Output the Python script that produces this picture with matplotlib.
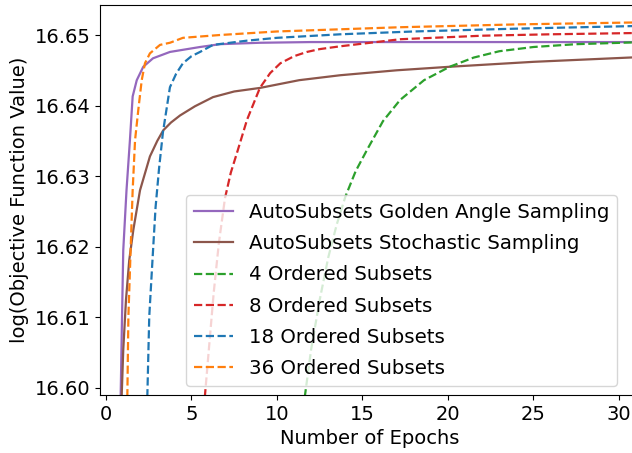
import numpy as np
import matplotlib
matplotlib.use('Agg')
import matplotlib.pyplot as plt

# epochs / objective values
golden_x = [0.84, 0.86, 0.93, 1.01, 1.2, 1.4, 1.56, 1.8, 2.18, 2.75, 3.74, 5.5, 6.67, 9.0, 12.0, 16.0, 20.0, 25.0, 31.5]
golden_y = [16.597, 16.599, 16.609, 16.6195, 16.628, 16.6351, 16.6413, 16.6436, 16.6455, 16.6467, 16.6476, 16.6483, 16.6487, 16.6489, 16.649, 16.649, 16.649, 16.649, 16.649]

stoch_x = [0.9, 0.92, 1.01, 1.17, 1.36, 1.6, 1.99, 2.57, 3.0, 3.35, 3.8, 4.33, 5.2, 6.26, 7.5, 9.0, 11.3, 13.7, 17.0, 20.1, 25.0, 31.5]
stoch_y = [16.597, 16.599, 16.6054, 16.6125, 16.6181, 16.6224, 16.628, 16.6328, 16.635, 16.6365, 16.6376, 16.6386, 16.6399, 16.6412, 16.642, 16.6425, 16.6436, 16.6443, 16.645, 16.6455, 16.6462, 16.6469]

os4_x = [11.6, 11.64, 12.0, 12.5, 13.0, 13.5, 14.0, 14.6, 15.26, 16.2, 17.2, 18.6, 20.1, 21.5, 23.0, 25.0, 27.5, 31.5]
os4_y = [16.597, 16.599, 16.6055, 16.6125, 16.6185, 16.6232, 16.6271, 16.6307, 16.6337, 16.6378, 16.6408, 16.6436, 16.6455, 16.6468, 16.6477, 16.6483, 16.6487, 16.649]

os8_x = [5.77, 5.79, 6.0, 6.3, 6.6, 6.96, 7.3, 7.66, 8.25, 9.0, 9.6, 10.2, 11.0, 11.75, 12.5, 13.7, 17.2, 22.0, 26.0, 31.5]
os8_y = [16.597, 16.599, 16.605, 16.6135, 16.6205, 16.6269, 16.6305, 16.6333, 16.638, 16.6425, 16.6446, 16.646, 16.647, 16.6476, 16.648, 16.6484, 16.6494, 16.6499, 16.6501, 16.6503]

os18_x = [2.41, 2.42, 2.53, 2.74, 2.9, 3.1, 3.33, 3.74, 4.1, 4.5, 5.0, 5.5, 6.26, 8.25, 10.0, 13.7, 18.0, 24.0, 31.5]
os18_y = [16.597, 16.599, 16.6101, 16.619, 16.6256, 16.631, 16.6362, 16.6426, 16.6445, 16.646, 16.647, 16.6476, 16.6486, 16.6492, 16.6496, 16.6501, 16.6505, 16.6509, 16.6513]

os36_x = [1.24, 1.25, 1.31, 1.44, 1.56, 1.7, 1.89, 2.09, 2.28, 2.57, 3.16, 3.74, 4.5, 6.67, 10.0, 17.2, 24.0, 31.5]
os36_y = [16.597, 16.599, 16.6101, 16.6195, 16.628, 16.6351, 16.6394, 16.6436, 16.646, 16.6474, 16.6486, 16.6489, 16.6496, 16.65, 16.6505, 16.6511, 16.6515, 16.6518]

labels = ['AutoSubsets Golden Angle Sampling', 'AutoSubsets Stochastic Sampling',
          '4 Ordered Subsets', '8 Ordered Subsets', '18 Ordered Subsets', '36 Ordered Subsets']

fig = plt.figure(figsize=(6.32, 4.53), dpi=100)
ax = fig.add_axes([100/632, 58/453, 540/632, 390/453])

ax.plot(golden_x, golden_y, color='tab:purple', lw=1.6, label=labels[0])
ax.plot(stoch_x, stoch_y, color='tab:brown', lw=1.6, label=labels[1])
ax.plot(os4_x, os4_y, '--', color='tab:green', lw=1.6, label=labels[2])
ax.plot(os8_x, os8_y, '--', color='tab:red', lw=1.6, label=labels[3])
ax.plot(os18_x, os18_y, '--', color='tab:blue', lw=1.6, label=labels[4])
ax.plot(os36_x, os36_y, '--', color='tab:orange', lw=1.6, label=labels[5])

ax.set_xlim(-0.35, 31.23)
ax.set_ylim(16.599, 16.65425)
ax.set_xticks([0, 5, 10, 15, 20, 25, 30])
ax.set_yticks([16.60, 16.61, 16.62, 16.63, 16.64, 16.65])
ax.set_yticklabels(['16.60', '16.61', '16.62', '16.63', '16.64', '16.65'])
ax.tick_params(labelsize=14)
ax.set_xlabel('Number of Epochs', fontsize=14)
ax.set_ylabel('log(Objective Function Value)', fontsize=14)

ax.legend(loc='lower left', bbox_to_anchor=(0.159, 0.023), borderaxespad=0,
          fontsize=14.2, labelspacing=0.62)

fig.savefig('out.png', dpi=100)
